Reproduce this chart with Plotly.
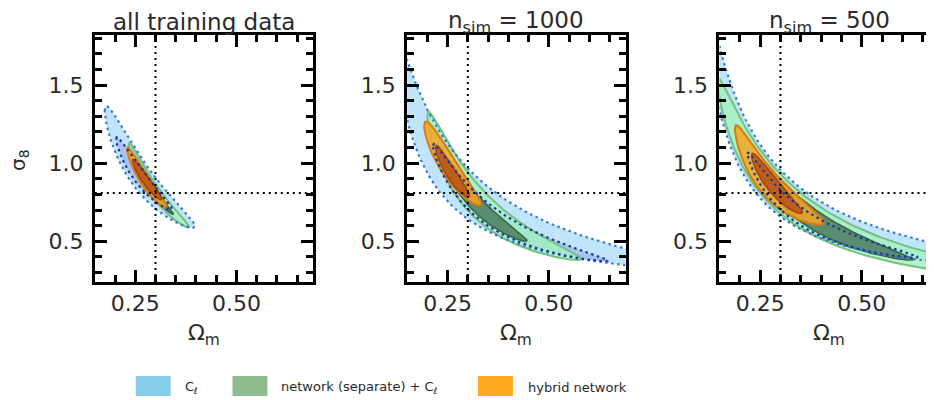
import numpy as np
import plotly.graph_objects as go

# ---------------- data ----------------
panel_titles = ["all training data", "n<sub>sim</sub> = 1000", "n<sub>sim</sub> = 500"]
x_tickvals = [0.25, 0.50]
x_ticktext = ["0.25", "0.50"]
y_tickvals = [0.5, 1.0, 1.5]
y_ticktext = ["0.5", "1.0", "1.5"]
omega_m_fid = 0.30
sigma8_fid = 0.81
x_range = [0.15, 0.69]
y_range = [0.24, 1.82]
x_label = "Ω<sub>m</sub>"
y_label = "σ<sub>8</sub>"
legend_labels = ["C<sub>ℓ</sub>", "network (separate) + C<sub>ℓ</sub>", "hybrid network"]

# contour parameters per panel:
# (Omega_m left tip, sigma8 left tip, Omega_m right tip, sigma8 right tip, bend, half-thickness in ln sigma8)
cl_outer = [(0.1745, 1.335, 0.3975, 0.598, 0.02, 0.13),
            (0.1187, 1.800, 0.872, 0.331, -0.039, 0.205),
            (0.1096, 2.136, 0.954, 0.343, -0.14, 0.188)]
cl_inner = [(0.2025, 1.155, 0.340, 0.710, 0.0, 0.07),
            (0.214, 1.112, 0.646, 0.378, -0.03, 0.108),
            (0.219, 1.059, 0.637, 0.400, -0.05, 0.09)]
sep_outer = [(0.2335, 1.123, 0.383, 0.592, 0.0, 0.065),
             (0.200, 1.304, 0.580, 0.389, -0.017, 0.155),
             (0.145, 1.520, 1.100, 0.224, 0.04, 0.165)]
sep_inner = [(0.248, 1.006, 0.344, 0.676, 0.0, 0.035),
             (0.236, 1.049, 0.446, 0.506, 0.0, 0.085),
             (0.243, 1.006, 0.627, 0.385, 0.0, 0.11)]
hyb_outer = [(0.2296, 1.091, 0.328, 0.719, 0.0, 0.062),
             (0.192, 1.240, 0.333, 0.740, 0.02, 0.10),
             (0.188, 1.219, 0.407, 0.623, -0.024, 0.125)]
hyb_inner = [(0.243, 1.017, 0.316, 0.772, 0.0, 0.045),
             (0.220, 1.102, 0.304, 0.793, 0.0, 0.06),
             (0.229, 1.049, 0.354, 0.687, 0.0, 0.075)]

# ---------------- styling ----------------
W, H = 934, 400
OFF = 8  # page body margin of the viewer
FONT = "DejaVu Sans"
TXT = "#2a2a2a"
x_dom_px = [(95, 314), (408, 627), (721, 941)]
y_dom_px = (35, 282)
centers_px = [204.5, 517.5, 831]
legend_patch_px = [(136, 171), (233, 268), (479, 514)]
legend_text_px = [183, 280, 527]
legend_colors = ["#87CEEB", "#8FBC8F", "#FFAA22"]


def px_x(p):
    return (p - OFF) / W


def px_y(p):
    return 1 - (p - OFF) / H


def contour_xy(p, n=240):
    om1, s1, om2, s2, bend, h = p
    u1, u2 = np.log(om1), np.log(om2)
    v1, v2 = np.log(s1), np.log(s2)
    t = np.linspace(0, 2 * np.pi, n)
    s = -np.cos(t)
    u = 0.5 * (u1 + u2) + 0.5 * (u2 - u1) * s
    v = 0.5 * (v1 + v2) + 0.5 * (v2 - v1) * s + bend * (1 - s ** 2) + h * np.sin(t)
    return np.exp(u), np.exp(v)


fig = go.Figure()

styles = [
    # (params list, fill, line colour, width, dash)
    (cl_outer, "rgba(140,205,245,0.55)", "rgb(55,125,200)", 2.2, "dot"),
    (cl_inner, "rgba(110,110,210,0.28)", "rgb(30,55,150)", 2.2, "dot"),
    (sep_outer, "rgba(160,242,190,0.80)", "rgb(120,190,135)", 2.0, "solid"),
    (sep_inner, "rgba(80,128,98,0.88)", "rgb(60,100,75)", 1.6, "solid"),
    (hyb_outer, "rgba(245,165,35,0.85)", "rgb(215,125,15)", 2.0, "solid"),
    (hyb_inner, "rgba(185,82,22,0.85)", "rgb(160,70,20)", 1.6, "solid"),
]

for k in range(3):
    xa = "x" if k == 0 else f"x{k+1}"
    ya = "y" if k == 0 else f"y{k+1}"
    for params, fill, lc, lw, dash in styles:
        xs, ys = contour_xy(params[k])
        line = dict(width=0) if dash == "dot" else dict(color=lc, width=lw)
        fig.add_trace(go.Scatter(x=xs, y=ys, xaxis=xa, yaxis=ya, mode="lines",
                                 fill="toself", fillcolor=fill, line=line,
                                 hoverinfo="skip", showlegend=False))
    for params, fill, lc, lw, dash in styles[:2]:
        xs, ys = contour_xy(params[k])
        fig.add_trace(go.Scatter(x=xs, y=ys, xaxis=xa, yaxis=ya, mode="lines",
                                 line=dict(color=lc, width=lw, dash="2.5px,3.5px"),
                                 hoverinfo="skip", showlegend=False))

    fig.add_shape(type="line", xref=xa, yref=f"{ya} domain", x0=omega_m_fid, x1=omega_m_fid,
                  y0=0, y1=1, line=dict(color="black", width=2, dash="2px,4px"))
    fig.add_shape(type="line", xref=f"{xa} domain", yref=ya, x0=0, x1=1,
                  y0=sigma8_fid, y1=sigma8_fid, line=dict(color="black", width=2, dash="2px,4px"))

axis_common = dict(showgrid=False, zeroline=False, showline=True, linecolor="black", linewidth=3,
                   ticks="inside", ticklen=12, tickwidth=2.5, tickcolor="black",
                   tickfont=dict(family=FONT, size=22, color=TXT))

for k in range(3):
    xd = [px_x(x_dom_px[k][0]), px_x(x_dom_px[k][1])]
    yd = [px_y(y_dom_px[1]), px_y(y_dom_px[0])]
    xkey = "xaxis" if k == 0 else f"xaxis{k+1}"
    ykey = "yaxis" if k == 0 else f"yaxis{k+1}"
    fig.update_layout({
        xkey: dict(axis_common, domain=xd, range=x_range, anchor="y" if k == 0 else f"y{k+1}",
                   tickmode="array", tickvals=x_tickvals, ticktext=x_ticktext,
                   mirror="allticks",
                   minor=dict(tickmode="linear", tick0=0, dtick=0.05, ticks="inside",
                              ticklen=7, tickwidth=2.5, tickcolor="black")),
        ykey: dict(axis_common, domain=yd, range=y_range, anchor="x" if k == 0 else f"x{k+1}",
                   tickmode="array", tickvals=y_tickvals, ticktext=y_ticktext,
                   mirror="allticks", ticklabelstandoff=4,
                   minor=dict(tickmode="linear", tick0=0, dtick=0.1, ticks="inside",
                              ticklen=7, tickwidth=2.5, tickcolor="black")),
    })

annotations = []
for k in range(3):
    annotations.append(dict(text=panel_titles[k], x=px_x(centers_px[k]), y=px_y(22),
                            xref="paper", yref="paper", showarrow=False, xanchor="center",
                            yanchor="middle", font=dict(family=FONT, size=23, color=TXT)))
    annotations.append(dict(text=x_label, x=px_x(centers_px[k]), y=px_y(334),
                            xref="paper", yref="paper", showarrow=False, xanchor="center",
                            yanchor="middle", font=dict(family=FONT, size=22, color=TXT)))
annotations.append(dict(text=y_label, x=px_x(19), y=px_y(160), xref="paper", yref="paper",
                        showarrow=False, textangle=-90, xanchor="center", yanchor="middle",
                        font=dict(family=FONT, size=20, color=TXT)))

shapes = list(fig.layout.shapes)
for (x0, x1), col, tx, lab in zip(legend_patch_px, legend_colors, legend_text_px, legend_labels):
    shapes.append(dict(type="rect", xref="paper", yref="paper", x0=px_x(x0), x1=px_x(x1),
                       y0=px_y(396), y1=px_y(376), fillcolor=col, line=dict(width=0)))
    annotations.append(dict(text=lab, x=px_x(tx), y=px_y(387), xref="paper", yref="paper",
                            showarrow=False, xanchor="left", yanchor="middle",
                            font=dict(family=FONT, size=13, color=TXT)))

fig.update_layout(width=W, height=H, margin=dict(l=0, r=0, t=0, b=0),
                  plot_bgcolor="white", paper_bgcolor="white",
                  annotations=annotations, shapes=shapes, showlegend=False)

fig.write_html("out.html")
